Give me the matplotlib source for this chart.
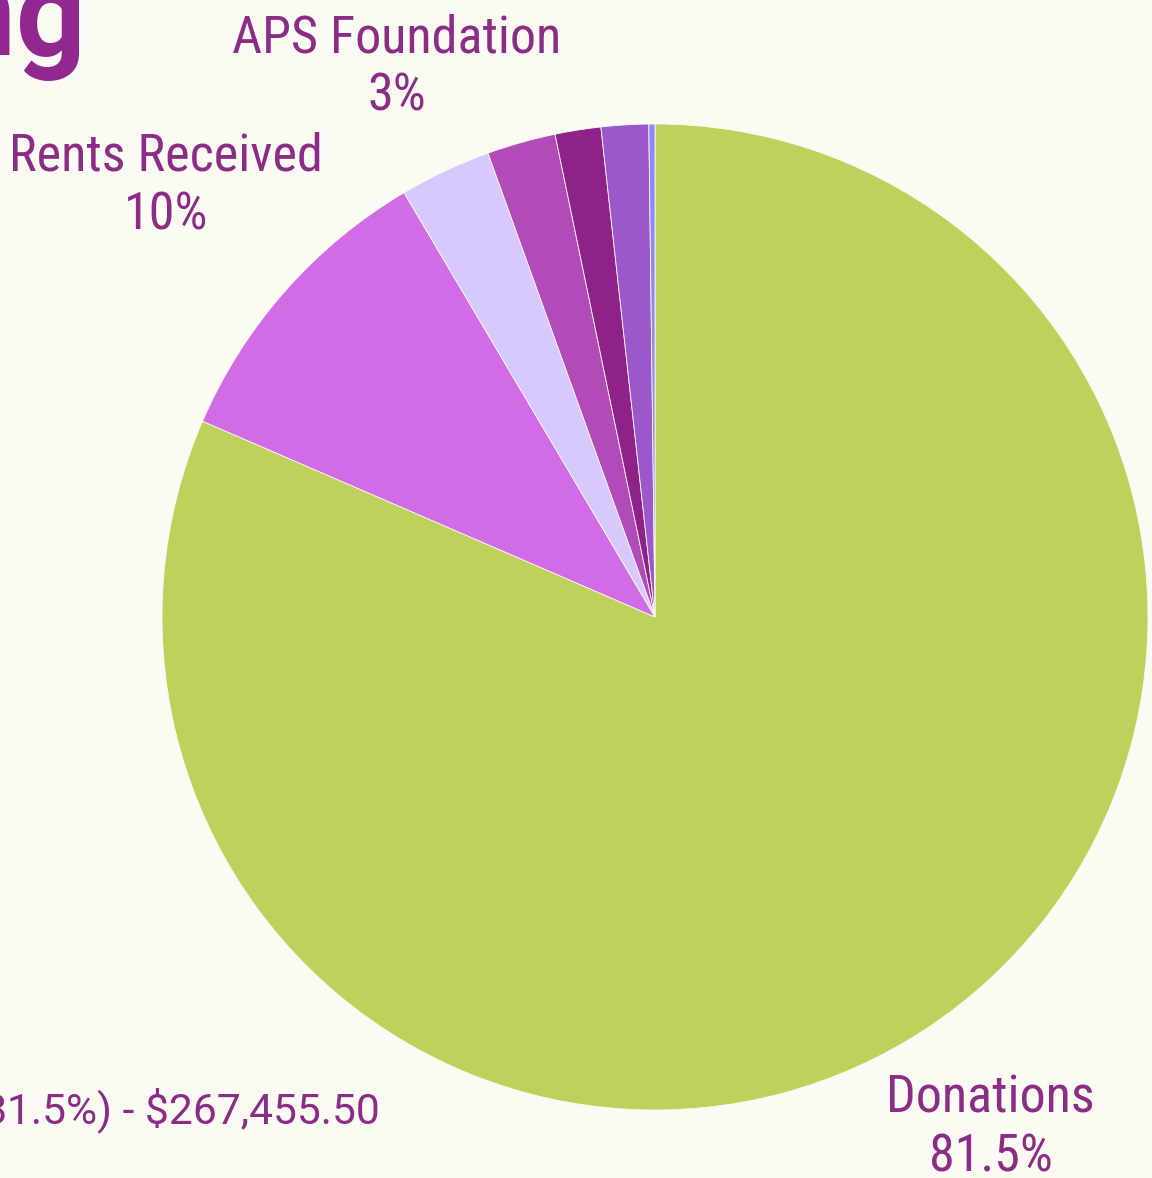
import numpy as np
import matplotlib.pyplot as plt
from matplotlib import font_manager

# Income sources
sources = ["Donations", "Rents Received", "APS Foundation", "Grants", "Events", "Other", "Interest"]
shares = [81.5, 10.0, 3.0, 2.25, 1.5, 1.55, 0.2]
colors = ["#BED15C", "#D16BE6", "#D7C8FD", "#B04BB7", "#8E2289", "#9A58CB", "#8C89F8"]
shown_labels = {"Donations": "81.5%", "Rents Received": "10%", "APS Foundation": "3%"}
label_dist = {"Donations": 1.24, "Rents Received": 1.322, "APS Foundation": 1.232}

W, H = 1152, 1178
bg = "#FBFAF3"
txt = "#8B2C86"

# pick a condensed face close to Roboto Condensed
fonts = font_manager.fontManager.ttflist
names = set(f.name for f in fonts)
stretch = "normal"
if "Roboto Condensed" in names:
    cond = "Roboto Condensed"
elif any(f.name == "Roboto" and f.stretch == "condensed" for f in fonts):
    cond, stretch = "Roboto", "condensed"
elif "Barlow Semi Condensed" in names:
    cond = "Barlow Semi Condensed"
else:
    cond, stretch = "DejaVu Sans", "condensed"

fig = plt.figure(figsize=(W / 100, H / 100), dpi=100, facecolor=bg)
ax = fig.add_axes([0, 0, 1, 1])

cx, cy, R = 655, H - 617, 493
wedges, _ = ax.pie(shares, colors=colors, startangle=90, counterclock=False,
                   center=(cx, cy), radius=R, frame=True,
                   wedgeprops=dict(linewidth=0.6, edgecolor=bg))
ax.set_xlim(0, W)
ax.set_ylim(0, H)
ax.set_aspect("equal")
ax.axis("off")

for w, name in zip(wedges, sources):
    if name not in shown_labels:
        continue
    ang = np.deg2rad((w.theta1 + w.theta2) / 2)
    d = label_dist[name] * R
    x, y = cx + d * np.cos(ang), cy + d * np.sin(ang)
    ax.text(x, y, name + "\n" + shown_labels[name], ha="center", va="center",
            color=txt, fontsize=37.5, family=cond, fontstretch=stretch, linespacing=1.22)

# tooltip (cut off at the left edge)
ax.text(380, H - 1123, "Donations (81.5%) - $267,455.50", ha="right", va="baseline",
        color=txt, fontsize=30.7, family="Roboto")

# title, mostly outside the crop
ax.text(86, H - 55, "Funding", ha="right", va="baseline", color="#92278F",
        fontsize=88, family="Roboto", fontweight="bold")

fig.savefig("out.png", dpi=100, facecolor=bg)
